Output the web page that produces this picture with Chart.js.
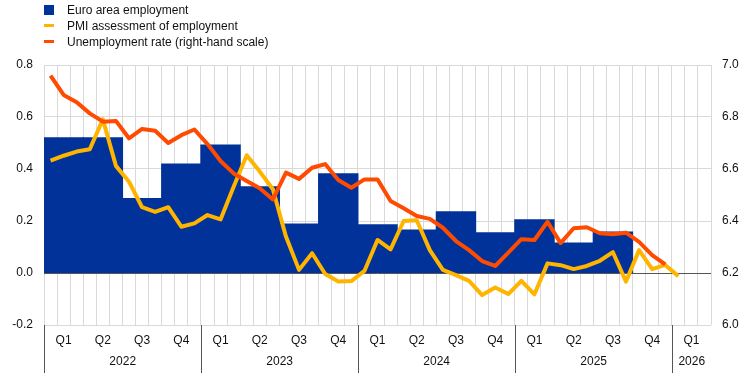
<!DOCTYPE html>
<html>
<head>
<meta charset="utf-8">
<script src="https://cdn.jsdelivr.net/npm/chart.js"></script>
<style>
    html, body { margin: 0; padding: 0; background: #fff; }
    .wrap { position: relative; width: 744px; height: 373px; }
    .legend { position: absolute; left: 44px; top: 0; font: 12px "Liberation Sans", Arial, sans-serif; color: #111; }
    .legend-item { position: relative; height: 16px; line-height: 16px; padding-left: 23px; white-space: nowrap; }
    .legend-item:first-child { margin-top: 2px; }
    .legend-item i { position: absolute; left: 0; width: 10px; }
    .sq { top: 3px; height: 10px; background: #003299; }
    .ln { top: 6px; height: 3px; }
</style>
</head>
<body>
<div class="wrap">
    <div class="legend">
        <div class="legend-item"><i class="sq"></i>Euro area employment</div>
        <div class="legend-item"><i class="ln" style="background:#ffb400"></i>PMI assessment of employment</div>
        <div class="legend-item"><i class="ln" style="background:#ff4b00"></i>Unemployment rate (right-hand scale)</div>
    </div>
    <canvas id="chart" width="744" height="373"></canvas>
</div>

<script>
    // quarters shown on the axis, Q1 2022 .. Q1 2026
    const years = ['2022', '2023', '2024', '2025', '2026'];
    const quarters = ['Q1', 'Q2', 'Q3', 'Q4', 'Q1', 'Q2', 'Q3', 'Q4', 'Q1', 'Q2', 'Q3', 'Q4',
                      'Q1', 'Q2', 'Q3', 'Q4', 'Q1'];
    const monthNames = ['Jan', 'Feb', 'Mar', 'Apr', 'May', 'Jun', 'Jul', 'Aug', 'Sep', 'Oct', 'Nov', 'Dec'];

    // quarterly employment growth (left scale)
    const employment = [0.52, 0.52, 0.286, 0.419, 0.492, 0.331, 0.188, 0.381,
                        0.185, 0.165, 0.235, 0.154, 0.204, 0.115, 0.157, null, null];

    // monthly PMI assessment of employment (left scale), Jan 2022 .. Jan 2026
    const pmi = [0.432, 0.451, 0.467, 0.476, 0.591, 0.412, 0.351, 0.253, 0.235, 0.253, 0.178, 0.191,
                 0.223, 0.206, 0.332, 0.453, 0.39, 0.322, 0.14, 0.012, 0.076, -0.004, -0.033, -0.031,
                 0.008, 0.127, 0.091, 0.2, 0.203, 0.088, 0.012, -0.008, -0.03, -0.085, -0.056, -0.081,
                 -0.03, -0.082, 0.037, 0.03, 0.015, 0.027, 0.047, 0.08, -0.033, 0.088, 0.015, 0.031,
                 -0.012];

    // monthly unemployment rate (right scale), Jan 2022 .. Dec 2025
    const unemployment = [6.959, 6.885, 6.857, 6.814, 6.782, 6.785, 6.718, 6.754, 6.747, 6.70, 6.73, 6.752,
                          6.696, 6.631, 6.583, 6.554, 6.526, 6.483, 6.586, 6.562, 6.605, 6.619, 6.558, 6.528,
                          6.56, 6.56, 6.477, 6.449, 6.419, 6.408, 6.374, 6.323, 6.288, 6.246, 6.227, 6.278,
                          6.33, 6.327, 6.397, 6.315, 6.372, 6.376, 6.353, 6.349, 6.355, 6.32, 6.269, 6.233];

    // one label per month, three per quarter
    const months = [];
    quarters.forEach((q, i) => {
        const y = years[Math.floor(i / 4)];
        const m0 = (i % 4) * 3;
        for (let k = 0; k < 3; k++) months.push(monthNames[m0 + k] + ' ' + y);
    });

    const FONT = '"Liberation Sans", Arial, sans-serif';
    const TEXT = '#111';
    const GRID = '#d9d9d9';

    // year labels and separators under the quarter ticks
    const yearAxisPlugin = {
        id: 'yearAxis',
        afterDraw(chart) {
            const xq = chart.scales.xq;
            const ctx = chart.ctx;
            const w = (xq.right - xq.left) / quarters.length;
            const top = chart.chartArea.bottom;
            ctx.save();
            ctx.strokeStyle = '#555';
            ctx.lineWidth = 1;
            ctx.fillStyle = TEXT;
            ctx.font = '12px ' + FONT;
            ctx.textAlign = 'center';
            ctx.textBaseline = 'middle';
            years.forEach((yr, i) => {
                const start = i * 4;
                const end = Math.min(start + 4, quarters.length);
                const x0 = Math.round(xq.left + start * w) + 0.5;
                const x1 = xq.left + end * w;
                ctx.beginPath();
                ctx.moveTo(x0, top);
                ctx.lineTo(x0, chart.height);
                ctx.stroke();
                ctx.fillText(yr, (x0 + x1) / 2, 362);
            });
            ctx.restore();
        }
    };

    new Chart(document.getElementById('chart'), {
        type: 'bar',
        data: {
            labels: months,
            datasets: [
                {
                    label: 'Unemployment rate (right-hand scale)',
                    type: 'line',
                    data: unemployment,
                    xAxisID: 'x',
                    yAxisID: 'y1',
                    borderColor: '#ff4b00',
                    borderWidth: 4,
                    pointRadius: 0,
                    tension: 0,
                    borderJoinStyle: 'round',
                    order: 1
                },
                {
                    label: 'PMI assessment of employment',
                    type: 'line',
                    data: pmi,
                    xAxisID: 'x',
                    yAxisID: 'y',
                    borderColor: '#ffb400',
                    borderWidth: 4,
                    pointRadius: 0,
                    tension: 0,
                    borderJoinStyle: 'round',
                    order: 2
                },
                {
                    label: 'Euro area employment',
                    type: 'bar',
                    data: employment,
                    xAxisID: 'xq',
                    yAxisID: 'y',
                    backgroundColor: '#003299',
                    barPercentage: 1,
                    categoryPercentage: 1,
                    grouped: false,
                    inflateAmount: 0.6,
                    order: 3
                }
            ]
        },
        options: {
            responsive: false,
            animation: false,
            layout: { padding: { top: 65, left: 0, right: 0, bottom: 0 } },
            plugins: { legend: { display: false }, tooltip: { enabled: false } },
            scales: {
                x: {
                    type: 'category',
                    position: 'bottom',
                    offset: true,
                    grid: { offset: true, color: GRID, drawTicks: false },
                    border: { display: false },
                    ticks: { display: false },
                    afterFit(scale) { scale.height = 0; }
                },
                xq: {
                    type: 'category',
                    labels: quarters,
                    position: 'bottom',
                    offset: true,
                    grid: { display: false, drawTicks: false },
                    border: { display: false },
                    ticks: { color: TEXT, font: { family: FONT, size: 12 }, padding: 8, maxRotation: 0, autoSkip: false },
                    afterFit(scale) { scale.height = 48; }
                },
                y: {
                    position: 'left',
                    min: -0.2,
                    max: 0.8,
                    grid: {
                        drawTicks: false,
                        color: ctx => (ctx.tick && Math.abs(ctx.tick.value) < 1e-9 ? '#555' : GRID)
                    },
                    border: { display: false },
                    ticks: {
                        stepSize: 0.2,
                        padding: 11,
                        color: TEXT,
                        font: { family: FONT, size: 12 },
                        callback: v => v.toFixed(1)
                    },
                    afterFit(scale) { scale.width = 44; }
                },
                y1: {
                    position: 'right',
                    min: 6.0,
                    max: 7.0,
                    grid: { drawOnChartArea: false, drawTicks: false },
                    border: { display: false },
                    ticks: {
                        stepSize: 0.2,
                        padding: 11,
                        color: TEXT,
                        font: { family: FONT, size: 12 },
                        callback: v => v.toFixed(1)
                    },
                    afterFit(scale) { scale.width = 33; }
                }
            }
        },
        plugins: [yearAxisPlugin]
    });
</script>
</body>
</html>
